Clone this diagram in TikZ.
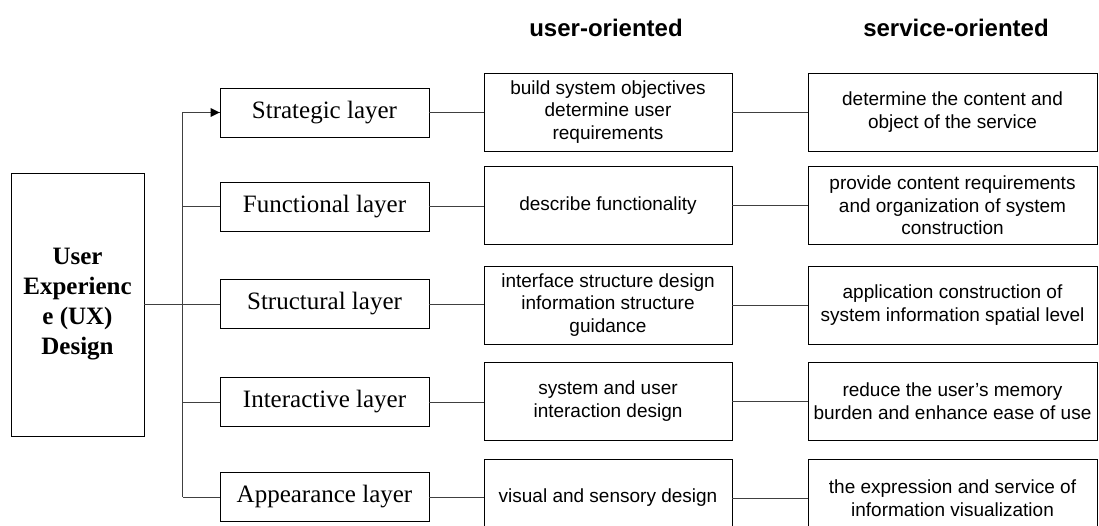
\documentclass[tikz,border=0pt]{standalone}
\usepackage{fontspec}
\setmainfont{Liberation Serif}
\setsansfont{Liberation Sans}
\usetikzlibrary{positioning,arrows.meta}

\begin{document}
\begin{tikzpicture}[x=1pt,y=-1pt,auto]
    \tikzset{layerbox/.style={draw,rectangle,line width=0.9pt,minimum width=209pt,minimum height=49pt,inner sep=0pt,font=\fontsize{25}{28}\selectfont},
      userbox/.style={draw,rectangle,line width=0.9pt,minimum width=248pt,minimum height=78pt,inner sep=0pt,align=center,font=\sffamily\fontsize{19}{22.5}\selectfont},
      servicebox/.style={userbox,minimum width=289pt},
      head/.style={font=\sffamily\bfseries\fontsize{24}{28}\selectfont},
      link/.style={draw=black!75,line width=0.7pt}}
    \useasboundingbox (0,0) rectangle (1099,526);
    % headings
    \node[head] (hu) at (606,28) {user-oriented};
    \node[head] (hs) at (956,28) {service-oriented};
    % root
    \node[draw,rectangle,line width=0.9pt,minimum width=133pt,minimum height=263pt,align=center,font=\bfseries\fontsize{25}{30}\selectfont] (ux) at (77.5,304.5) {User\\Experienc\\e (UX)\\Design};
    % layers
    \node[layerbox] (strat) at (324.5,112.5) {Strategic layer};
    \node[layerbox] (func) at (324.5,206.5) {Functional layer};
    \node[layerbox] (struc) at (324.5,304) {Structural layer};
    \node[layerbox] (inter) at (324.5,402) {Interactive layer};
    \node[layerbox] (appe) at (324.5,497) {Appearance layer};
    % user-oriented
    \node[userbox] (u1) at (608,112) {build system objectives\\determine user\\requirements};
    \node[userbox] (u2) at (608,205.5) {describe functionality};
    \node[userbox] (u3) at (608,305) {interface structure design\\information structure\\guidance};
    \node[userbox] (u4) at (608,401) {system and user\\interaction design};
    \node[userbox] (u5) at (608,498) {visual and sensory design};
    % service-oriented
    \node[servicebox] (s1) at (952.5,112) {determine the content and\\object of the service};
    \node[servicebox] (s2) at (952.5,205.5) {provide content requirements\\and organization of system\\construction};
    \node[servicebox] (s3) at (952.5,305) {application construction of\\system information spatial level};
    \node[servicebox] (s4) at (952.5,401) {reduce the user's memory\\burden and enhance ease of use};
    \node[servicebox] (s5) at (952.5,498) {the expression and service of\\information visualization};
    % trunk
    \coordinate (top) at (182.5,112.5);
    \coordinate (bot) at (182.5,497);
    \draw[link] (bot) -- (top);
    \draw[link] (ux.east) -- (ux.east -| top);
    \draw[link] (top) -- (strat.west);
    \fill[black] (strat.west) -- ++(-9,-4.5) -- ++(0,9) -- cycle;
    \foreach \n in {func,struc,inter,appe}
      \draw[link] (\n.west -| top) -- (\n.west);
    % rows
    \foreach \a/\b/\c in {strat/u1/s1,func/u2/s2,struc/u3/s3,inter/u4/s4,appe/u5/s5}{
      \draw[link] (\a.east) -- (\a.east -| \b.west);
      \draw[link] (\b.east) -- (\c.west);
    }
\end{tikzpicture}
\end{document}
